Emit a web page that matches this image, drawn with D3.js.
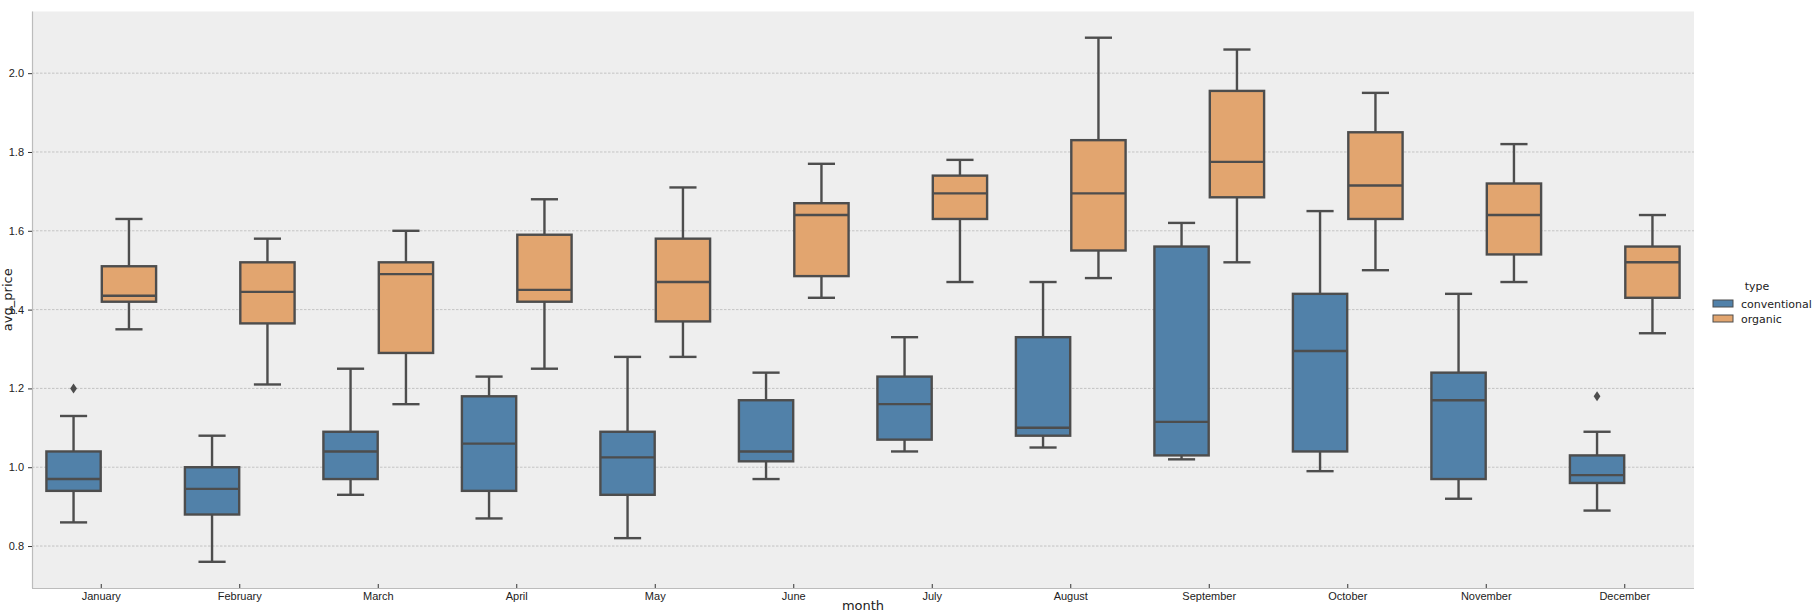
<!DOCTYPE html>
<html>
<head>
<meta charset="utf-8">
<script src="https://cdn.jsdelivr.net/npm/d3@7"></script>
<style>
  body { margin: 0; background: #fff; }
  svg { display: block; font-family: "DejaVu Sans", sans-serif; }
</style>
</head>
<body>
<svg id="chart" width="1813" height="612"></svg>
<script>
var months = ['January', 'February', 'March', 'April', 'May', 'June', 'July',
              'August', 'September', 'October', 'November', 'December'];
var types = ['conventional', 'organic'];
var yTicks = [0.8, 1.0, 1.2, 1.4, 1.6, 1.8, 2.0];

// per month: whisker low, q1, median, q3, whisker high
var convLow  = [0.86, 0.76, 0.93, 0.87, 0.82, 0.97, 1.04, 1.05, 1.02, 0.99, 0.92, 0.89];
var convQ1   = [0.94, 0.88, 0.97, 0.94, 0.93, 1.015, 1.07, 1.08, 1.03, 1.04, 0.97, 0.96];
var convMed  = [0.97, 0.945, 1.04, 1.06, 1.025, 1.04, 1.16, 1.10, 1.115, 1.295, 1.17, 0.98];
var convQ3   = [1.04, 1.00, 1.09, 1.18, 1.09, 1.17, 1.23, 1.33, 1.56, 1.44, 1.24, 1.03];
var convHigh = [1.13, 1.08, 1.25, 1.23, 1.28, 1.24, 1.33, 1.47, 1.62, 1.65, 1.44, 1.09];

var orgLow   = [1.35, 1.21, 1.16, 1.25, 1.28, 1.43, 1.47, 1.48, 1.52, 1.50, 1.47, 1.34];
var orgQ1    = [1.42, 1.365, 1.29, 1.42, 1.37, 1.485, 1.63, 1.55, 1.685, 1.63, 1.54, 1.43];
var orgMed   = [1.435, 1.445, 1.49, 1.45, 1.47, 1.64, 1.695, 1.695, 1.775, 1.715, 1.64, 1.52];
var orgQ3    = [1.51, 1.52, 1.52, 1.59, 1.58, 1.67, 1.74, 1.83, 1.955, 1.85, 1.72, 1.56];
var orgHigh  = [1.63, 1.58, 1.60, 1.68, 1.71, 1.77, 1.78, 2.09, 2.06, 1.95, 1.82, 1.64];

var outliers = [
  { month: 'January', type: 'conventional', value: 1.20 },
  { month: 'December', type: 'conventional', value: 1.18 }
];

var colors = { conventional: '#5181a9', organic: '#e2a56f' };
var lineColor = '#4d4d4d';

var boxes = [];
months.forEach(function(m, i) {
  boxes.push({ month: m, type: 'conventional', low: convLow[i], q1: convQ1[i], med: convMed[i], q3: convQ3[i], high: convHigh[i] });
  boxes.push({ month: m, type: 'organic', low: orgLow[i], q1: orgQ1[i], med: orgMed[i], q3: orgQ3[i], high: orgHigh[i] });
});

var svg = d3.select('#chart'),
    plotLeft = 32, plotRight = 1694, plotTop = 11.5, plotBottom = 588;

var x = d3.scaleBand().domain(months).range([plotLeft, plotRight]).paddingInner(0).paddingOuter(0),
    xInner = d3.scaleBand().domain(types).range([0, x.bandwidth()]).paddingInner(0).paddingOuter(0.25),
    y = d3.scaleLinear().domain([0.6935, 2.1565]).range([plotBottom, plotTop]);

// background
svg.append('rect')
    .attr('x', plotLeft).attr('y', plotTop)
    .attr('width', plotRight - plotLeft).attr('height', plotBottom - plotTop)
    .attr('fill', '#eeeeee');

// grid
svg.append('g').selectAll('line')
    .data(yTicks)
  .enter().append('line')
    .attr('x1', plotLeft).attr('x2', plotRight)
    .attr('y1', function(d) { return y(d); })
    .attr('y2', function(d) { return y(d); })
    .attr('stroke', '#b9b9b9')
    .attr('stroke-width', 0.8)
    .attr('stroke-dasharray', '2.5,1.5');

// axes
var axisLeft = d3.axisLeft(y).tickValues(yTicks).tickFormat(d3.format('.1f')).tickSize(4).tickPadding(4),
    axisBottom = d3.axisBottom(x).tickSize(-4).tickPadding(4);

var gy = svg.append('g').attr('transform', 'translate(' + plotLeft + ',0)').call(axisLeft);
var gx = svg.append('g').attr('transform', 'translate(0,' + plotBottom + ')').call(axisBottom);

[gx, gy].forEach(function(g) {
  g.select('.domain').attr('stroke', '#bcbcbc').attr('stroke-width', 1.2);
  g.selectAll('.tick line').attr('stroke', '#333');
  g.selectAll('.tick text').attr('fill', '#222').style('font-size', '11px');
});
gy.select('.domain').attr('d', 'M0.5,' + plotTop + 'V' + plotBottom);
gx.select('.domain').attr('d', 'M' + plotLeft + ',0.5H' + plotRight);

svg.append('text')
    .attr('transform', 'translate(12,' + (plotTop + plotBottom) / 2 + ') rotate(-90)')
    .attr('text-anchor', 'middle')
    .style('font-size', '13px')
    .attr('fill', '#222')
    .text('avg_price');

svg.append('text')
    .attr('x', (plotLeft + plotRight) / 2).attr('y', 610)
    .attr('text-anchor', 'middle')
    .style('font-size', '13px')
    .attr('fill', '#222')
    .text('month');

// boxes
var bw = xInner.bandwidth() * 0.98;
var g = svg.append('g').selectAll('g.box')
    .data(boxes)
  .enter().append('g')
    .attr('class', 'box')
    .attr('transform', function(d) {
      return 'translate(' + (x(d.month) + xInner(d.type) + xInner.bandwidth() / 2) + ',0)';
    });

g.append('line')
    .attr('x1', 0).attr('x2', 0)
    .attr('y1', function(d) { return y(d.q3); })
    .attr('y2', function(d) { return y(d.high); })
    .attr('stroke', lineColor).attr('stroke-width', 2.4);
g.append('line')
    .attr('x1', 0).attr('x2', 0)
    .attr('y1', function(d) { return y(d.q1); })
    .attr('y2', function(d) { return y(d.low); })
    .attr('stroke', lineColor).attr('stroke-width', 2.4);
g.append('line')
    .attr('x1', -bw / 4).attr('x2', bw / 4)
    .attr('y1', function(d) { return y(d.high); })
    .attr('y2', function(d) { return y(d.high); })
    .attr('stroke', lineColor).attr('stroke-width', 2.4);
g.append('line')
    .attr('x1', -bw / 4).attr('x2', bw / 4)
    .attr('y1', function(d) { return y(d.low); })
    .attr('y2', function(d) { return y(d.low); })
    .attr('stroke', lineColor).attr('stroke-width', 2.4);
g.append('rect')
    .attr('x', -bw / 2).attr('width', bw)
    .attr('y', function(d) { return y(d.q3); })
    .attr('height', function(d) { return y(d.q1) - y(d.q3); })
    .attr('fill', function(d) { return colors[d.type]; })
    .attr('stroke', lineColor).attr('stroke-width', 2.4);
g.append('line')
    .attr('x1', -bw / 2).attr('x2', bw / 2)
    .attr('y1', function(d) { return y(d.med); })
    .attr('y2', function(d) { return y(d.med); })
    .attr('stroke', lineColor).attr('stroke-width', 2.4);

// outliers
svg.append('g').selectAll('path')
    .data(outliers)
  .enter().append('path')
    .attr('d', 'M0,-5L3.4,0L0,5L-3.4,0Z')
    .attr('transform', function(d) {
      return 'translate(' + (x(d.month) + xInner(d.type) + xInner.bandwidth() / 2) + ',' + y(d.value) + ')';
    })
    .attr('fill', lineColor);

// legend
var legend = svg.append('g').attr('transform', 'translate(1713,290)');
legend.append('text')
    .attr('x', 44).attr('y', 0)
    .attr('text-anchor', 'middle')
    .style('font-size', '11px')
    .attr('fill', '#222')
    .text('type');
var items = legend.selectAll('g.item')
    .data(types)
  .enter().append('g')
    .attr('class', 'item')
    .attr('transform', function(d, i) { return 'translate(0,' + (10 + i * 15) + ')'; });
items.append('rect')
    .attr('width', 20).attr('height', 7)
    .attr('fill', function(d) { return colors[d]; })
    .attr('stroke', lineColor).attr('stroke-width', 1);
items.append('text')
    .attr('x', 28).attr('y', 7.5)
    .style('font-size', '11px')
    .attr('fill', '#222')
    .text(function(d) { return d; });
</script>
</body>
</html>
